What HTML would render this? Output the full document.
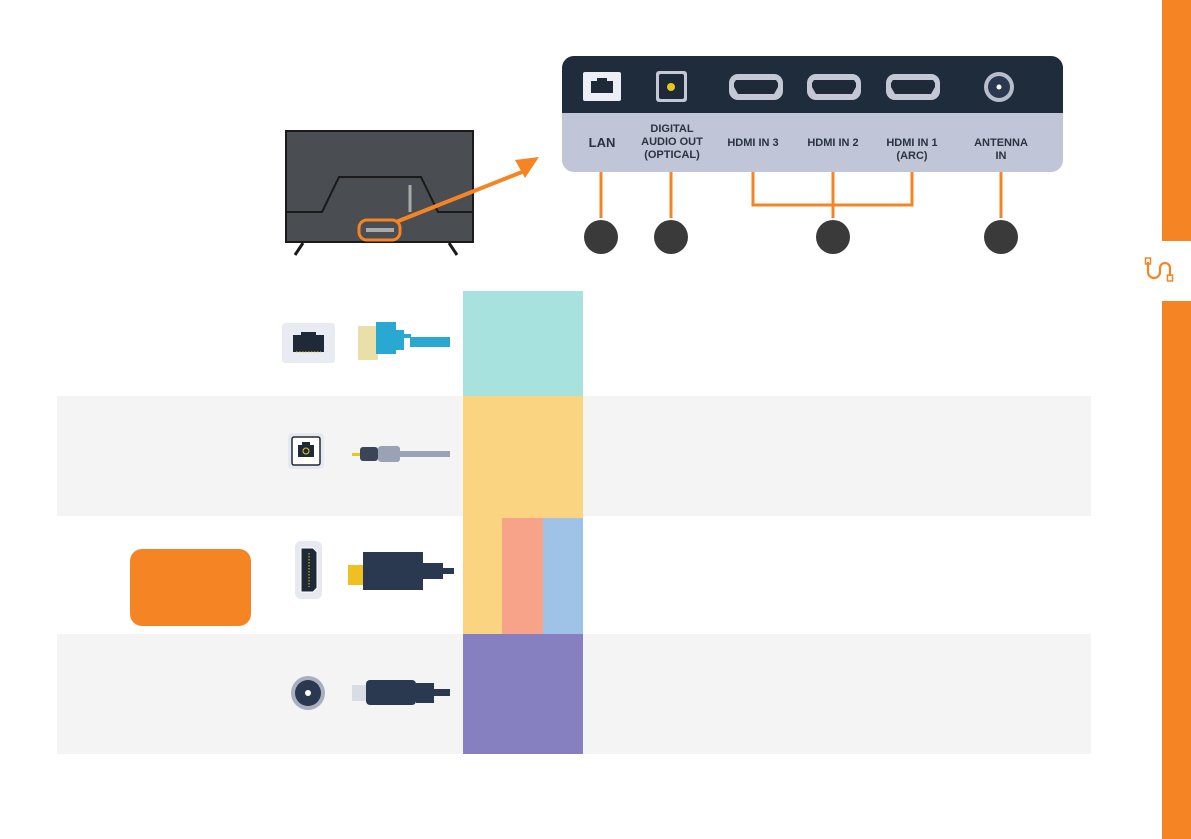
<!DOCTYPE html>
<html><head><meta charset="utf-8"><style>
body{margin:0;width:1191px;height:839px;position:relative;background:#fff;overflow:hidden;font-family:"Liberation Sans",sans-serif}
.a{position:absolute}
.lbl{position:absolute;font-size:11px;font-weight:bold;color:#2a3340;text-align:center;line-height:13px}
</style></head><body>
<div class="a" style="left:1162px;top:0;width:29px;height:241px;background:#f58524"></div>
<div class="a" style="left:1162px;top:301px;width:29px;height:538px;background:#f58524"></div>
<svg class="a" style="left:1140px;top:250px" width="40" height="40" viewBox="0 0 40 40"><path d="M8 12 V22 a6 6 0 0 0 12 0 V18 a5 5 0 0 1 10 0 V26" fill="none" stroke="#f58524" stroke-width="2.2"/><rect x="5.5" y="8" width="5" height="6" fill="none" stroke="#f58524" stroke-width="1.5"/><rect x="27.5" y="25" width="5" height="6" fill="none" stroke="#f58524" stroke-width="1.5"/></svg>

<div class="a" style="left:57px;top:396px;width:1034px;height:120px;background:#f4f4f5"></div>
<div class="a" style="left:57px;top:634px;width:1034px;height:120px;background:#f4f4f5"></div>
<div class="a" style="left:463px;top:291px;width:120px;height:105px;background:#a8e2de"></div>
<div class="a" style="left:463px;top:396px;width:120px;height:238px;background:#fad480"></div>
<div class="a" style="left:502px;top:518px;width:41px;height:116px;background:#f7a38a"></div>
<div class="a" style="left:543px;top:518px;width:40px;height:116px;background:#9fc3e7"></div>
<div class="a" style="left:463px;top:634px;width:120px;height:120px;background:#8680c0"></div>
<div class="a" style="left:130px;top:549px;width:121px;height:77px;background:#f58524;border-radius:12px"></div>

<svg class="a" style="left:270px;top:300px" width="200" height="440" viewBox="270 300 200 440">
<rect x="282" y="323" width="53" height="40" rx="3" fill="#e8ebf2"/>
<path d="M293 335h8v-3h15v3h8v17h-31z" fill="#1e2a38"/><line x1="296" y1="352" x2="321" y2="352" stroke="#e8c820" stroke-dasharray="1.5 1.5"/>
<rect x="358" y="326" width="20" height="34" fill="#e8e0a8"/><path d="M376 322h20v8h8v4h7v4h-7v12h-8v4h-20z" fill="#29a9d2"/><rect x="410" y="337" width="40" height="10" fill="#29a9d2"/>
<rect x="288" y="433" width="36" height="36" rx="4" fill="#e6e9f0"/><rect x="292" y="437" width="28" height="28" rx="2" fill="#fff" stroke="#1e2a38" stroke-width="1.5"/><path d="M298 445h4v-3h8v3h4v12h-16z" fill="#1e2a38"/><circle cx="306" cy="451" r="3" fill="none" stroke="#e8c820"/>
<rect x="352" y="453" width="10" height="3" fill="#e8c820"/><rect x="360" y="447" width="18" height="14" rx="3" fill="#3a4658"/><rect x="378" y="446" width="22" height="16" rx="3" fill="#9aa3b5"/><rect x="400" y="451" width="50" height="6" fill="#9aa3b5"/>
<rect x="295" y="541" width="27" height="58" rx="6" fill="#e6e9f0"/><path d="M301 548h12l4 4v36l-4 4h-12z" fill="#1e2a38" stroke="#fff"/><line x1="309" y1="553" x2="309" y2="587" stroke="#e8c820" stroke-dasharray="1.5 1.5"/>
<rect x="348" y="565" width="16" height="20" fill="#f0c020"/><rect x="363" y="552" width="60" height="38" fill="#2b3950"/><rect x="423" y="563" width="20" height="16" fill="#2b3950"/><rect x="440" y="568" width="14" height="6" fill="#2b3950"/>
<circle cx="308" cy="693" r="17" fill="#a9afbf"/><circle cx="308" cy="693" r="13" fill="#2b3950"/><circle cx="308" cy="693" r="3" fill="#fff"/>
<rect x="352" y="685" width="16" height="16" fill="#d8dce4"/><rect x="366" y="680" width="50" height="25" rx="4" fill="#2b3950"/><path d="M416 683h18v20h-18z" fill="#2b3950"/><rect x="430" y="689" width="20" height="7" fill="#2b3950"/>
</svg>

<svg class="a" style="left:270px;top:120px" width="290" height="140" viewBox="270 120 290 140">
<rect x="286" y="131" width="187" height="111" fill="#4a4d51" stroke="#1a1a1a" stroke-width="2"/>
<path d="M286 212h36l17-35h82l17 35h35" fill="none" stroke="#1a1a1a" stroke-width="2"/>
<line x1="410" y1="185" x2="410" y2="212" stroke="#aaa" stroke-width="3"/>
<rect x="359" y="220" width="41" height="20" rx="8" fill="none" stroke="#f58524" stroke-width="3"/>
<line x1="366" y1="230" x2="394" y2="230" stroke="#aaa" stroke-width="4"/>
<path d="M295 255l8-12M457 255l-8-12" stroke="#1a1a1a" stroke-width="3"/>
<line x1="396" y1="222" x2="522" y2="172" stroke="#f58524" stroke-width="4"/>
<path d="M515 160l24-3-14 21z" fill="#f58524"/>
</svg>

<div class="a" style="left:562px;top:56px;width:501px;height:116px;background:#c1c5d8;border-radius:12px;overflow:hidden">
<div style="height:57px;background:#1f2c3b"></div></div>
<svg class="a" style="left:550px;top:50px" width="520" height="210" viewBox="550 50 520 210">
<rect x="583" y="72" width="38" height="29" rx="2" fill="#eceff5"/><path d="M591 81h6v-3h10v3h6v12h-22z" fill="#1e2a38"/>
<rect x="656" y="71" width="31" height="31" rx="3" fill="#c4c8d4"/><rect x="659" y="74" width="25" height="25" rx="2" fill="#1e2a38"/><circle cx="671" cy="87" r="4" fill="#e8c820"/>
<g fill="#c4c8d4"><rect x="729" y="74" width="54" height="26" rx="9"/><rect x="807" y="74" width="54" height="26" rx="9"/><rect x="886" y="74" width="54" height="26" rx="9"/></g>
<g fill="#1e2a38"><path d="M736 80h40l2 3v4l-4 7h-36l-4-7v-4z"/><path d="M814 80h40l2 3v4l-4 7h-36l-4-7v-4z"/><path d="M893 80h40l2 3v4l-4 7h-36l-4-7v-4z"/></g>
<circle cx="999" cy="87" r="15" fill="#b8bdcb"/><circle cx="999" cy="87" r="11" fill="#2b3950"/><circle cx="999" cy="87" r="2.5" fill="#fff"/>
<g stroke="#f58524" stroke-width="3" fill="none"><line x1="601" y1="172" x2="601" y2="218"/><line x1="671" y1="172" x2="671" y2="218"/><path d="M753 172v33h159v-33"/><line x1="833" y1="172" x2="833" y2="218"/><line x1="1001" y1="172" x2="1001" y2="218"/></g>
<g fill="#3a3a3a"><circle cx="601" cy="237" r="17"/><circle cx="671" cy="237" r="17"/><circle cx="833" cy="237" r="17"/><circle cx="1001" cy="237" r="17"/></g>
</svg>
<div class="lbl" style="left:572px;top:136px;width:60px;font-size:13px">LAN</div>
<div class="lbl" style="left:632px;top:123px;width:80px">DIGITAL<br>AUDIO OUT<br>(OPTICAL)</div>
<div class="lbl" style="left:713px;top:137px;width:80px">HDMI IN 3</div>
<div class="lbl" style="left:793px;top:137px;width:80px">HDMI IN 2</div>
<div class="lbl" style="left:872px;top:137px;width:80px">HDMI IN 1<br>(ARC)</div>
<div class="lbl" style="left:961px;top:137px;width:80px">ANTENNA<br>IN</div>
</body></html>
